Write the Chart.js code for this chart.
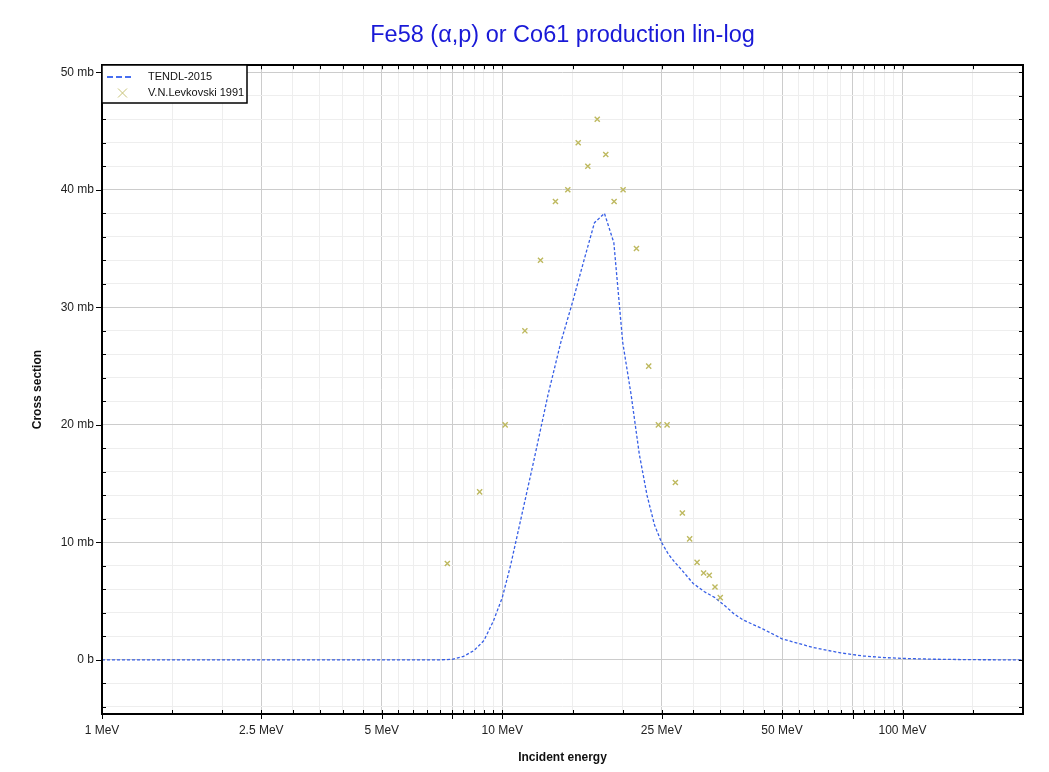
<!DOCTYPE html>
<html><head><meta charset="utf-8">
<script src="https://cdn.jsdelivr.net/npm/chart.js@4"></script>
<style>html,body{margin:0;padding:0;background:#fff}canvas{display:block}</style>
</head><body>
<canvas id="c" width="1049" height="772"></canvas>
<script>
const titleText = 'Fe58 (α,p) or Co61 production lin-log';
const xTitle = 'Incident energy';
const yTitle = 'Cross section';

const tendlLabel = 'TENDL-2015';
const tendlEnergy = [1,2,3,4,5,6,7,7.5,8,8.5,9,9.5,10,10.5,11,12,13,14,15,16,17,18,19,20,21,22,23,24,25,26,27,28,30,32,34,36,38,40,45,50,55,60,70,80,90,100,120,150,200];
const tendlXs = [0,0,0,0,0,0.001,0.01,0.05,0.3,0.8,1.65,3.3,5.3,8.1,11.2,17,22.5,27,30.5,34,37.2,38,35.5,27,22.5,17.5,14,11.5,10,9.0,8.3,7.7,6.5,5.8,5.3,4.6,3.9,3.4,2.6,1.8,1.4,1.05,0.6,0.33,0.2,0.13,0.06,0.02,0.005];

const expLabel = 'V.N.Levkovski 1991';
const expEnergy = [7.29,8.78,10.17,11.39,12.46,13.58,14.58,15.48,16.36,17.27,18.14,19.03,20.04,21.64,23.22,24.55,25.81,27.07,28.18,29.39,30.67,31.85,32.9,34.0,35.05];
const expXs = [8.2,14.3,20,28,34,39,40,44,42,46,43,39,40,35,25,20,20,15.1,12.5,10.3,8.3,7.4,7.2,6.2,5.3];

const xMajorTicks = [1,2.5,5,7.5,10,25,50,75,100];
const xLabelTicks = [1,2.5,5,10,25,50,100];
const xMinorTicks = [1.5,2,3,3.5,4,4.5,5.5,6,6.5,7,8,8.5,9,9.5,15,20,30,35,40,45,55,60,65,70,80,85,90,95,150,200];
const yTicks = [-4,-2,0,2,4,6,8,10,12,14,16,18,20,22,24,26,28,30,32,34,36,38,40,42,44,46,48,50];
const yMajorStep = 10;
const xMin = 1, xMax = 200, yMin = -4.6, yMax = 50.6;

const FONT = "'Liberation Sans', Arial, sans-serif";
const MAJOR_GRID = 'rgb(204,204,204)';
const MINOR_GRID = 'rgb(238,238,238)';

const framePlugin = {
  id: 'frame',
  afterDraw(chart) {
    const {ctx, chartArea: a, scales: {x, y}} = chart;
    ctx.save();
    ctx.strokeStyle = '#000';
    ctx.lineWidth = 1;
    ctx.beginPath();
    y.ticks.forEach(t => {
      const py = Math.round(y.getPixelForValue(t.value)) + 0.5;
      const major = t.value % yMajorStep === 0;
      if (major) { ctx.moveTo(a.left - 6, py); ctx.lineTo(a.left, py); }
      else { ctx.moveTo(a.left, py); ctx.lineTo(a.left + 4, py); }
      ctx.moveTo(a.right - 4, py); ctx.lineTo(a.right, py);
    });
    x.ticks.forEach(t => {
      const px = Math.round(x.getPixelForValue(t.value)) + 0.5;
      const major = xMajorTicks.includes(t.value);
      ctx.moveTo(px, a.bottom - 4); ctx.lineTo(px, a.bottom + (major ? 5 : 0));
      ctx.moveTo(px, a.top); ctx.lineTo(px, a.top + 4);
    });
    ctx.stroke();
    ctx.lineWidth = 2;
    ctx.strokeRect(Math.round(a.left), Math.round(a.top), Math.round(a.right - a.left), Math.round(a.bottom - a.top));

    // legend
    const ds = chart.data.datasets;
    const lx = Math.round(a.left), ly = Math.round(a.top);
    const lw = 145, lh = 38;
    ctx.fillStyle = '#fff';
    ctx.fillRect(lx, ly, lw, lh);
    ctx.lineWidth = 1.5;
    ctx.strokeStyle = '#000';
    ctx.strokeRect(lx, ly, lw, lh);
    ctx.strokeStyle = 'rgb(70,110,240)';
    ctx.lineWidth = 2;
    ctx.setLineDash([6, 3]);
    ctx.beginPath();
    ctx.moveTo(lx + 5, ly + 12); ctx.lineTo(lx + 32, ly + 12);
    ctx.stroke();
    ctx.setLineDash([]);
    ctx.strokeStyle = 'rgb(200,195,120)';
    ctx.lineWidth = 1;
    ctx.beginPath();
    const cx = lx + 20.5, cy = ly + 28;
    ctx.moveTo(cx - 4.5, cy - 4.5); ctx.lineTo(cx + 4.5, cy + 4.5);
    ctx.moveTo(cx + 4.5, cy - 4.5); ctx.lineTo(cx - 4.5, cy + 4.5);
    ctx.stroke();
    ctx.fillStyle = '#111';
    ctx.font = '11px ' + FONT;
    ctx.textBaseline = 'middle';
    ctx.textAlign = 'left';
    ctx.fillText(ds[0].label, lx + 46, ly + 12);
    ctx.fillText(ds[1].label, lx + 46, ly + 28);
    ctx.restore();
  }
};

new Chart(document.getElementById('c'), {
  type: 'scatter',
  data: {
    datasets: [
      {
        label: tendlLabel,
        data: tendlEnergy.map((e, i) => ({x: e, y: tendlXs[i]})),
        showLine: true,
        borderColor: 'rgb(55,95,230)',
        borderWidth: 1.3,
        borderDash: [3, 2],
        pointRadius: 0,
        tension: 0,
        order: 2
      },
      {
        label: expLabel,
        data: expEnergy.map((e, i) => ({x: e, y: expXs[i]})),
        showLine: false,
        pointStyle: 'crossRot',
        pointRadius: 3.6,
        borderColor: 'rgb(190,185,95)',
        backgroundColor: 'rgb(190,185,95)',
        pointBorderWidth: 1.4,
        order: 1
      }
    ]
  },
  plugins: [framePlugin],
  options: {
    responsive: false,
    animation: false,
    devicePixelRatio: 1,
    layout: {padding: {left: 0, right: 26, top: 0, bottom: 0}},
    plugins: {
      legend: {display: false},
      tooltip: {enabled: false},
      title: {
        display: true,
        text: titleText,
        color: 'rgb(25,25,215)',
        fullSize: false,
        font: {family: FONT, size: 23.5, weight: 'normal'},
        padding: {top: 21, bottom: 16}
      }
    },
    scales: {
      x: {
        type: 'logarithmic',
        min: xMin, max: xMax,
        afterBuildTicks: (s) => {
          s.ticks = xMajorTicks.concat(xMinorTicks).sort((p, q) => p - q).map(v => ({value: v}));
        },
        afterFit: (s) => { s.height = 58; },
        ticks: {
          autoSkip: false, maxRotation: 0, minRotation: 0,
          padding: 9,
          color: '#222',
          font: {family: FONT, size: 12},
          callback: (v) => xLabelTicks.includes(v) ? v + ' MeV' : ''
        },
        grid: {
          drawTicks: false,
          color: (c) => c.tick && xMajorTicks.includes(c.tick.value) ? MAJOR_GRID : MINOR_GRID,
          lineWidth: 1
        },
        border: {display: false},
        title: {
          display: true, text: xTitle, color: '#111',
          font: {family: FONT, size: 12, weight: 'bold'},
          padding: {top: 0, bottom: 7}
        }
      },
      y: {
        type: 'linear',
        min: yMin, max: yMax,
        afterBuildTicks: (s) => { s.ticks = yTicks.map(v => ({value: v})); },
        afterFit: (s) => { s.width = 102; },
        ticks: {
          padding: 8,
          color: '#222',
          font: {family: FONT, size: 12},
          callback: (v) => v % yMajorStep === 0 ? (v === 0 ? '0 b' : v + ' mb') : ''
        },
        grid: {
          drawTicks: false,
          color: (c) => c.tick && c.tick.value % yMajorStep === 0 ? MAJOR_GRID : MINOR_GRID,
          lineWidth: 1
        },
        border: {display: false},
        title: {
          display: true, text: yTitle, color: '#111',
          font: {family: FONT, size: 12, weight: 'bold'},
          padding: {top: 30, bottom: 0}
        }
      }
    }
  }
});
</script>
</body></html>
